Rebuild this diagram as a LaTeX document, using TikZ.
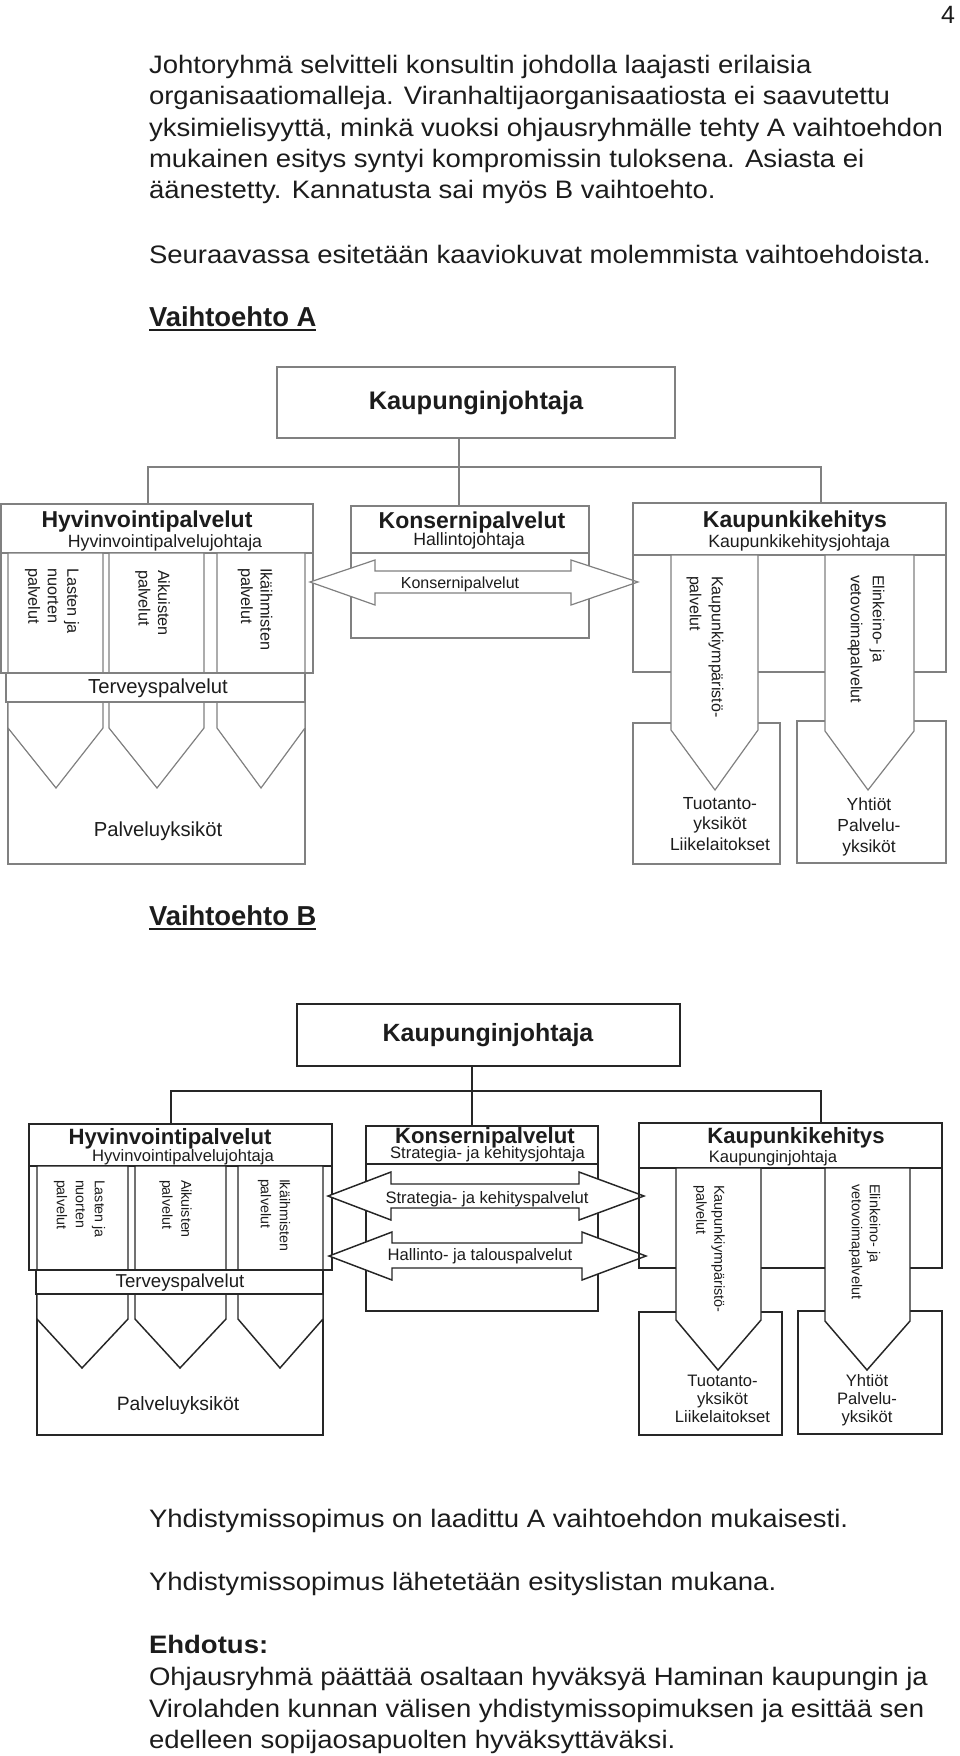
\documentclass[tikz,border=0pt]{standalone}
\usepackage{fontspec}
\setmainfont{Liberation Sans}
\newfontfamily\bodyfont[FakeStretch=1.09]{Liberation Sans}
\definecolor{lineA}{HTML}{808080}
\definecolor{lineB}{HTML}{262626}
\definecolor{txtc}{HTML}{1C1C1C}
\newcommand\fsz[2]{\fontsize{#1pt}{#2pt}\selectfont}
% box from corners (px): [opts]{name}{x1}{y1}{x2}{y2}
\newcommand\pbox[6][]{\node[box,#1,minimum width={(#5-#3)*0.75pt},minimum height={(#6-#4)*0.75pt}] (#2) at ({(#3+#5)/2},{(#4+#6)/2}) {};}
\begin{document}
\begin{tikzpicture}[x=0.75pt,y=-0.75pt,
  box/.style={draw,rectangle,inner sep=0pt,outer sep=0pt},
  lA/.style={draw=lineA,line width=0.9pt},
  lB/.style={draw=lineB,line width=1.1pt},
  txt/.style={inner sep=0pt,outer sep=0pt,text=txtc},
  body/.style={txt,anchor=base west,font=\bodyfont\fsz{18.94}{23}},
  head/.style={txt,anchor=base west,font=\bfseries\fsz{20.55}{24}},
  tiA/.style={txt,anchor=base,font=\bfseries\fsz{17.25}{20}},
  stA/.style={txt,anchor=base,font=\fsz{13.3}{16}},
  midA/.style={txt,anchor=base,font=\fsz{15.2}{18}},
  rotA/.style={txt,rotate=-90,anchor=west,align=left,font=\fsz{12.2}{14.6}},
  rotkA/.style={txt,rotate=-90,anchor=west,align=left,font=\fsz{12}{16.5}},
  smA/.style={txt,align=center,font=\fsz{13.1}{15.4}},
  tiB/.style={txt,anchor=base,font=\bfseries\fsz{16.6}{19}},
  stB/.style={txt,anchor=base,font=\fsz{12.45}{15}},
  rotB/.style={txt,rotate=-90,anchor=west,align=left,font=\fsz{10.7}{14.25}},
  rotkB/.style={txt,rotate=-90,anchor=west,align=left,font=\fsz{10.8}{13.5}},
  smB/.style={txt,align=center,font=\fsz{12.45}{13.6}}]
\useasboundingbox (0,0) rectangle (960,1756);

% ---------------- text above ----------------
\node[txt,anchor=base east,font=\fsz{18.75}{22}] (pg) at (955,23) {4};
\node[body] (t1) at (149,73) {Johtoryhmä selvitteli konsultin johdolla laajasti erilaisia};
\node[body] (t2) at (149,104.5) {organisaatiomalleja. Viranhaltijaorganisaatiosta ei saavutettu};
\node[body] (t3) at (149,136) {yksimielisyyttä, minkä vuoksi ohjausryhmälle tehty A vaihtoehdon};
\node[body] (t4) at (149,167) {mukainen esitys syntyi kompromissin tuloksena. Asiasta ei};
\node[body] (t5) at (149,198.5) {äänestetty. Kannatusta sai myös B vaihtoehto.};
\node[body] (t6) at (149,263) {Seuraavassa esitetään kaaviokuvat molemmista vaihtoehdoista.};
\node[head] (vA) at (149,326) {Vaihtoehto A};
\draw[line width=1.9pt,txtc] ([yshift=-3pt]vA.base west) -- ([yshift=-3pt]vA.base east);

% ---------------- Vaihtoehto A ----------------
\pbox[lA]{kjA}{277}{367}{675}{438}
\node[txt,font=\bfseries\fsz{19.05}{22}] (kjAt) at (476,403) {Kaupunginjohtaja};

% Hyvinvointipalvelut
\pbox[lA]{palA}{8}{702}{305}{864}
\pbox[lA]{hyA}{1}{504}{313}{673}
\draw[lA] (1,553) -- (313,553);
\draw[lA,fill=white] (8,553) -- (103,553) -- (103,728) -- (56,788) -- (8,728) -- cycle;
\draw[lA,fill=white] (109,553) -- (204,553) -- (204,728) -- (157,788) -- (109,728) -- cycle;
\draw[lA,fill=white] (217,553) -- (305,553) -- (305,728) -- (261,788) -- (217,728) -- cycle;
\pbox[lA,fill=white]{terA}{6}{673}{305}{702}
\node[tiA] (hyAt) at (147,527) {Hyvinvointipalvelut};
\node[stA] (hyAs) at (165,547) {Hyvinvointipalvelujohtaja};
\node[rotA] (c1A) at (52,568) {Lasten ja\\nuorten\\palvelut};
\node[rotA] (c2A) at (152.5,570) {Aikuisten\\palvelut};
\node[rotA] (c3A) at (255,568) {Ikäihmisten\\palvelut};
\node[midA] (terAt) at (158,693) {Terveyspalvelut};
\node[midA] (palAt) at (158,836) {Palveluyksiköt};

% Konsernipalvelut
\pbox[lA]{konA}{351}{506}{589}{638}
\draw[lA] (351,553) -- (589,553);
\node[tiA] (konAt) at (472,528) {Konsernipalvelut};
\node[stA] (konAs) at (469,545) {Hallintojohtaja};
\draw[lA,fill=white] (310,582) -- (375,560) -- (375,571) -- (571,571) -- (571,560) -- (638,582)
  -- (571,605) -- (571,593) -- (375,593) -- (375,605) -- cycle;
\node[txt,anchor=base,font=\fsz{12}{14}] (konAa) at (460,588) {Konsernipalvelut};

% Kaupunkikehitys
\pbox[lA]{kkA}{633}{503}{946}{672}
\draw[lA] (633,555) -- (946,555);
\pbox[lA]{kb1A}{633}{723}{780}{864}
\pbox[lA]{kb2A}{797}{721}{946}{863}
\draw[lA,fill=white] (671,555) -- (758,555) -- (758,730) -- (715,790) -- (671,730) -- cycle;
\draw[lA,fill=white] (825,555) -- (914,555) -- (914,731) -- (868,790) -- (825,731) -- cycle;
\node[tiA] (kkAt) at (795,527) {Kaupunkikehitys};
\node[stA] (kkAs) at (799,547) {Kaupunkikehitysjohtaja};
\node[rotkA] (k1A) at (705,576) {Kaupunkiympäristö-\\palvelut};
\node[rotkA] (k2A) at (866,575) {Elinkeino- ja\\vetovoimapalvelut};
\node[smA] (kb1At) at (720,824) {Tuotanto-\\yksiköt\\Liikelaitokset};
\node[smA] (kb2At) at (869,827) {Yhtiöt\\Palvelu-\\yksiköt};

% connectors A
\coordinate (jA) at (459,467);
\coordinate (jAl) at (148,467);
\coordinate (jAr) at (821,467);
\draw[lA] (jA |- kjA.south) -- (jA |- konA.north);
\draw[lA] (jAl |- hyA.north) -- (jAl) -- (jAr) -- (jAr |- kkA.north);

% ---------------- Vaihtoehto B ----------------
\node[head] (vB) at (149,925) {Vaihtoehto B};
\draw[line width=1.9pt,txtc] ([yshift=-3pt]vB.base west) -- ([yshift=-3pt]vB.base east);

\pbox[lB]{kjB}{297}{1004}{680}{1066}
\node[txt,font=\bfseries\fsz{18.7}{22}] (kjBt) at (488,1035) {Kaupunginjohtaja};

% Hyvinvointipalvelut B
\pbox[lB]{palB}{37}{1294}{323}{1435}
\pbox[lB]{hyB}{29}{1124}{332}{1270}
\draw[lB] (29,1166) -- (332,1166);
\draw[lB,fill=white] (37,1166) -- (128,1166) -- (128,1319) -- (82,1368) -- (37,1319) -- cycle;
\draw[lB,fill=white] (135,1166) -- (226,1166) -- (226,1319) -- (180,1368) -- (135,1319) -- cycle;
\draw[lB,fill=white] (238,1166) -- (323,1166) -- (323,1319) -- (280,1368) -- (238,1319) -- cycle;
\pbox[lB,fill=white]{terB}{36}{1270}{323}{1294}
\node[tiB] (hyBt) at (170,1144) {Hyvinvointipalvelut};
\node[stB] (hyBs) at (183,1161.5) {Hyvinvointipalvelujohtaja};
\node[rotB] (c1B) at (79.5,1180) {Lasten ja\\nuorten\\palvelut};
\node[rotB] (c2B) at (175.5,1180) {Aikuisten\\palvelut};
\node[rotB] (c3B) at (274,1179) {Ikäihmisten\\palvelut};
\node[txt,anchor=base,font=\fsz{14}{16}] (terBt) at (180,1287) {Terveyspalvelut};
\node[txt,anchor=base,font=\fsz{14.5}{17}] (palBt) at (178,1410) {Palveluyksiköt};

% Konsernipalvelut B
\pbox[lB]{konB}{366}{1126}{598}{1311}
\draw[lB] (366,1164) -- (599,1164);
\node[tiB] (konBt) at (485,1143) {Konsernipalvelut};
\node[stB] (konBs) at (487.5,1158) {Strategia- ja kehitysjohtaja};
\draw[lB,fill=white] (328,1196) -- (391,1172) -- (391,1184) -- (579,1184) -- (579,1172) -- (644,1196)
  -- (579,1220) -- (579,1208) -- (391,1208) -- (391,1220) -- cycle;
\draw[lB,fill=white] (329,1256) -- (392,1232) -- (392,1243) -- (582,1243) -- (582,1232) -- (646,1256)
  -- (582,1280) -- (582,1268) -- (392,1268) -- (392,1280) -- cycle;
\node[txt,anchor=base,font=\fsz{12.45}{15}] (a1B) at (487,1203) {Strategia- ja kehityspalvelut};
\node[txt,anchor=base,font=\fsz{12.45}{15}] (a2B) at (480,1260) {Hallinto- ja talouspalvelut};

% Kaupunkikehitys B
\pbox[lB]{kkB}{639}{1123}{942}{1268}
\draw[lB] (639,1168) -- (943,1168);
\pbox[lB]{kb1B}{639}{1312}{782}{1435}
\pbox[lB]{kb2B}{798}{1311}{942}{1434}
\draw[lB,fill=white] (676,1168) -- (761,1168) -- (761,1320) -- (718,1370) -- (676,1320) -- cycle;
\draw[lB,fill=white] (825,1168) -- (910,1168) -- (910,1321) -- (867,1370) -- (825,1321) -- cycle;
\node[tiB] (kkBt) at (796,1143) {Kaupunkikehitys};
\node[stB] (kkBs) at (773,1162) {Kaupunginjohtaja};
\node[rotkB] (k1B) at (709,1185) {Kaupunkiympäristö-\\palvelut};
\node[rotkB] (k2B) at (864.5,1184) {Elinkeino- ja\\vetovoimapalvelut};
\node[smB] (kb1Bt) at (722.5,1399) {Tuotanto-\\yksiköt\\Liikelaitokset};
\node[smB] (kb2Bt) at (867,1400.5) {Yhtiöt\\Palvelu-\\yksiköt};

% connectors B
\coordinate (jB) at (472,1091);
\coordinate (jBl) at (171,1091);
\coordinate (jBr) at (821,1091);
\draw[lB] (jB |- kjB.south) -- (jB |- konB.north);
\draw[lB] (jBl |- hyB.north) -- (jBl) -- (jBr) -- (jBr |- kkB.north);

% ---------------- text below ----------------
\node[body] (b1) at (149,1527) {Yhdistymissopimus on laadittu A vaihtoehdon mukaisesti.};
\node[body] (b2) at (149,1590) {Yhdistymissopimus lähetetään esityslistan mukana.};
\node[body,font=\bodyfont\bfseries\fsz{18.94}{23}] (b3) at (149,1653) {Ehdotus:};
\node[body] (b4) at (149,1685) {Ohjausryhmä päättää osaltaan hyväksyä Haminan kaupungin ja};
\node[body] (b5) at (149,1717) {Virolahden kunnan välisen yhdistymissopimuksen ja esittää sen};
\node[body] (b6) at (149,1748) {edelleen sopijaosapuolten hyväksyttäväksi.};
\end{tikzpicture}
\end{document}
